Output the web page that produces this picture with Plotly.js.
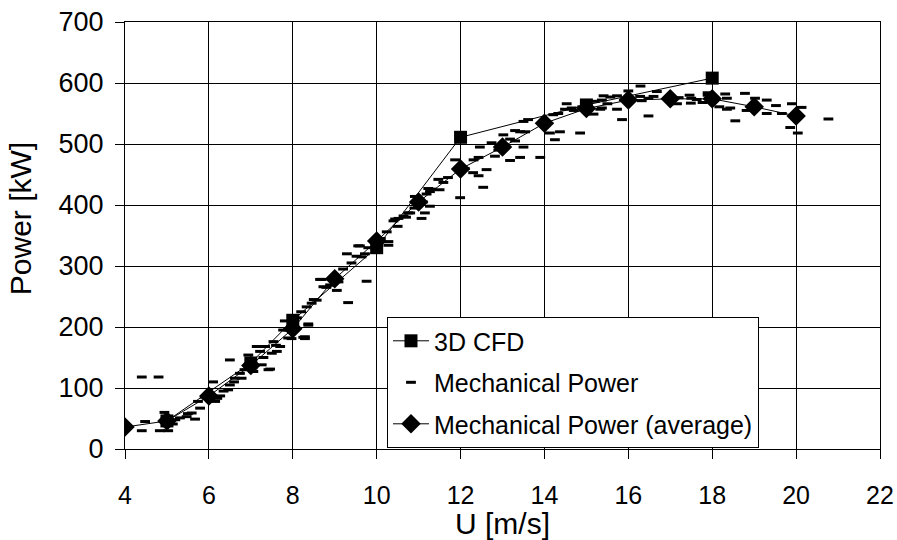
<!DOCTYPE html>
<html><head><meta charset="utf-8">
<script src="https://cdn.plot.ly/plotly-3.0.1.min.js"></script>
<style>html,body{margin:0;padding:0;background:#fff}#c{width:897px;height:540px}</style>
</head><body><div id="c"></div>
<script>
const cfdX = [5, 7, 8, 10, 12, 15, 18];
const cfdY = [46, 141, 211, 330, 511, 564, 608];

const avgX = [4, 5, 6, 7, 8, 9, 10, 11, 12, 13, 14, 15, 16, 17, 18, 19, 20];
const avgY = [36, 46, 87, 137, 197, 279, 341, 405, 459, 495, 534, 558, 572, 574, 574, 561, 546];

const mechX = [4.4,4.8,4.4,4.48,4.83,5.03,4.94,5.14,5.31,5.47,5.67,5.59,5.79,5.74,6.10,6.15,6.2,6.27,6.46,6.5,6.5,6.62,6.74,6.78,6.94,7.14,7.34,7.06,7.26,7.42,7.50,7.54,7.70,7.89,7.89,8.29,9.56,9.29,9.52,8.69,9.76,9.32,8.73,8.89,9.05,9.09,8.57,8.45,8.33,8.37,8.29,7.81,7.77,7.97,7.62,7.46,7.22,11.47,11.59,11.23,11.31,11.19,11.27,11.15,11.07,10.91,10.75,10.64,10.52,10.40,10.24,10.28,10.28,9.64,9.72,11.99,11.87,11.27,10.80,10.44,12.30,12.43,12.54,12.62,12.43,12.31,12.46,12.74,12.82,13.18,13.42,13.50,13.02,13.18,13.30,13.42,13.54,13.50,13.61,13.90,14.13,14.37,14.25,14.21,14.33,14.49,14.53,14.65,14.85,15.17,15.33,15.41,15.57,15.73,15.73,15.85,15.37,15.37,16.0,16.29,16.28,16.32,16.48,16.48,16.68,17.16,17.46,17.49,17.63,17.77,17.89,17.89,18.17,18.31,18.35,18.35,18.43,18.55,18.78,18.82,19.02,19.30,19.30,19.52,19.66,19.90,19.86,20.04,20.13,20.77,9.60,8.65,8.37,8.25,6.0,5.9,6.35,6.6,6.85,7.0,7.3,7.6,8.1,8.2,8.5,8.8,9.0,9.2,9.4,9.8,10.1,10.5,10.7,10.9,11.1,11.5,11.7,12.1,12.9,13.3,14.0,14.7,15.0,15.5,15.9,16.6,17.2,17.5,5.2,5.5,14.9,15.2];
const mechY = [118,118,30,45,30,30,60,41,51,53,49,59,67,78,110,78,83,87,97,105,146,116,124,116,154,168,168,127,138,130,157,176,168,182,195,184,333,320,316,278,275,240,266,269,260,274,244,239,233,203,181,210,195,181,160,131,160,442,437,427,426,418,398,387,378,414,387,382,378,374,356,340,334,315,320,412,474,422,387,377,453,448,429,458,478,474,495,502,480,473,478,495,515,508,522,520,520,537,540,478,518,520,507,548,550,557,566,559,518,549,557,579,577,579,557,540,572,559,587,595,578,571,575,546,586,566,580,567,573,568,584,580,561,582,575,557,559,538,583,555,575,572,550,563,550,566,527,518,560,541,333,278,205,183,90,85,95,110,130,145,150,170,215,225,245,265,280,295,305,330,345,365,380,395,405,425,445,460,490,505,530,555,565,566,572,578,576,575,48,58,561,570];

const xTicks = [4, 6, 8, 10, 12, 14, 16, 18, 20, 22];
const yTicks = [0, 100, 200, 300, 400, 500, 600, 700];

const FONT = 'Liberation Sans, Arial, sans-serif';

const traces = [
  {x: cfdX, y: cfdY, name: '3D CFD', mode: 'lines+markers', type: 'scatter', legendgroup: 'a',
   line: {color: '#000', width: 1}, marker: {symbol: 'square', size: 13, color: '#000'}},
  {x: mechX, y: mechY, name: 'Mechanical Power', mode: 'markers', type: 'scatter', legendgroup: 'b',
   marker: {symbol: 'line-ew-open', size: 7, color: '#000', line: {color: '#000', width: 3}}},
  {x: avgX, y: avgY, name: 'Mechanical Power (average)', mode: 'lines+markers', type: 'scatter', legendgroup: 'c',
   line: {color: '#000', width: 1}, marker: {symbol: 'diamond', size: 15, color: '#000'}}
];

const layout = {
  width: 897, height: 540,
  margin: {l: 125, r: 17, t: 22, b: 91},
  paper_bgcolor: '#fff', plot_bgcolor: '#fff',
  font: {family: FONT, color: '#000', size: 25},
  showlegend: true,
  legend: {x: 0.347, y: 0.309, xanchor: 'left', yanchor: 'top',
           bgcolor: '#fff', bordercolor: '#000', borderwidth: 1,
           traceorder: 'grouped', tracegroupgap: 6, itemwidth: 36,
           font: {family: FONT, size: 25, color: '#000'}},
  xaxis: {range: [4, 22], tickvals: xTicks, ticktext: xTicks.map(String),
          showgrid: true, gridcolor: '#000', gridwidth: 1, zeroline: false,
          showline: true, linecolor: '#000', linewidth: 1, mirror: true,
          ticks: 'outside', ticklen: 9, tickcolor: '#000', ticklabelstandoff: 15,
          tickfont: {family: FONT, size: 25},
          title: {text: 'U [m/s]', font: {family: FONT, size: 30}, standoff: 2}},
  yaxis: {range: [0, 700], tickvals: yTicks, ticktext: yTicks.map(String),
          showgrid: true, gridcolor: '#000', gridwidth: 1, zeroline: false,
          showline: true, linecolor: '#000', linewidth: 1, mirror: true,
          ticks: 'outside', ticklen: 9, tickcolor: '#000', ticklabelstandoff: 6,
          tickfont: {family: FONT, size: 27}},
  annotations: [{text: 'Power [kW]', textangle: -90, showarrow: false,
                 xref: 'paper', yref: 'paper', x: -0.138, y: 0.54,
                 xanchor: 'center', yanchor: 'middle',
                 font: {family: FONT, size: 30, color: '#000'}}]
};

Plotly.newPlot('c', traces, layout, {displayModeBar: false, staticPlot: true});
</script>
</body></html>
